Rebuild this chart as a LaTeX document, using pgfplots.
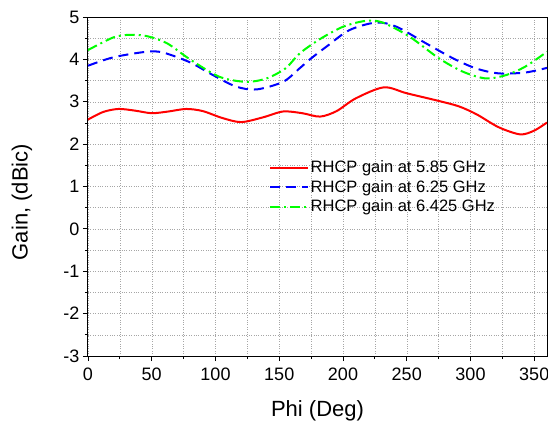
\documentclass[border=0pt]{standalone}
\usepackage{fontspec}
\setmainfont{Liberation Sans}
\usepackage{pgfplots}
\pgfplotsset{compat=1.18}
\begin{document}
\begin{tikzpicture}
\begin{axis}[
  name=ax, at={(0,0)}, anchor=south west,
  scale only axis, width=459pt, height=339pt,
  xmin=0, xmax=360, ymin=-3, ymax=5,
  xtick={0,50,...,350}, ytick={-3,-2,...,5},
  minor x tick num=1, minor y tick num=1,
  grid=both,
  major grid style={dotted, gray!70, line width=0.5pt},
  minor grid style={dotted, gray!70, line width=0.5pt},
  tick align=outside, xtick pos=left, ytick pos=left,
  major tick length=5pt, minor tick length=3pt,
  tick style={black, line width=0.8pt},
  axis line style={line width=1pt},
  /pgf/number format/assume math mode=true,
  ticklabel style={font=\fontsize{18}{20}\selectfont},
  xticklabel style={yshift=-3pt},
  xlabel={Phi (Deg)}, ylabel={Gain, (dBic)},
  every axis x label/.style={at={(axis description cs:0.5,-0.162)}, anchor=center, font=\fontsize{22}{24}\selectfont},
  every axis y label/.style={at={(axis description cs:-0.144,0.454)}, rotate=90, anchor=center, font=\fontsize{22}{24}\selectfont},
  legend style={draw=none, fill=none, at={(0.392,0.585)}, anchor=north west,
    font=\fontsize{16.5}{18}\selectfont, row sep=2pt, inner sep=1pt},
  legend cell align=left,
  legend image post style={xscale=2.2},
]
\addplot[red, line width=2pt, smooth] coordinates {
(0,2.58) (12,2.76) (24,2.83) (37,2.79) (50,2.73) (63,2.77) (77,2.83) (90,2.78) (105,2.62) (120,2.52) (137,2.63) (153,2.77) (168,2.73) (182,2.65) (195,2.78) (210,3.08) (232,3.34) (250,3.20) (275,3.02) (291,2.89) (305,2.70) (322,2.40) (339,2.23) (350,2.32) (360,2.51)
};
\addlegendentry{RHCP gain at 5.85 GHz}
\addplot[blue, line width=2pt, dash pattern=on 10pt off 6pt, smooth] coordinates {
(0,3.85) (20,4.05) (46,4.18) (59,4.16) (80,3.93) (98,3.63) (116,3.36) (132,3.29) (153,3.47) (166,3.79) (174,4.0) (187,4.30) (205,4.69) (226,4.87) (242,4.77) (265,4.38) (286,4.03) (304,3.79) (322,3.67) (343,3.69) (360,3.80)
};
\addlegendentry{RHCP gain at 6.25 GHz}
\addplot[green, line width=2pt, dash pattern=on 10pt off 4pt on 2pt off 4pt, smooth] coordinates {
(0,4.22) (20,4.52) (33,4.58) (46,4.55) (62,4.38) (80,4.00) (103,3.59) (124,3.47) (140,3.55) (155,3.79) (166,4.14) (182,4.48) (200,4.77) (218,4.91) (231,4.87) (252,4.54) (275,4.03) (294,3.71) (312,3.55) (328,3.63) (343,3.83) (360,4.18)
};
\addlegendentry{RHCP gain at 6.425 GHz}
\end{axis}
\pgfresetboundingbox
\path (ax.south west) ++(-88pt,-67pt) rectangle ++(548pt,423pt);
\end{tikzpicture}
\end{document}
